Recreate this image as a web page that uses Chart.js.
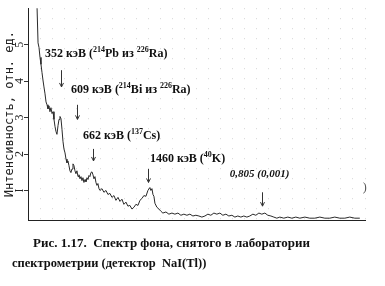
<!DOCTYPE html>
<html><head><meta charset="utf-8">
<script src="https://cdn.jsdelivr.net/npm/chart.js@4.4.1/dist/chart.umd.min.js"></script>
<style>
html,body{margin:0;padding:0;background:#fff;}
#wrap{position:relative;width:385px;height:286px;overflow:hidden;background:#fff;}
canvas{position:absolute;left:0;top:0;}
#cap{position:absolute;left:0;top:233px;width:385px;font-family:"Liberation Serif",serif;font-weight:bold;color:#111;line-height:20px;white-space:nowrap;}
</style></head><body>
<div id="wrap"><canvas id="c" width="385" height="286"></canvas>
<div id="cap"><div style="padding-left:33px;font-size:13px">Рис. 1.17.&nbsp; Спектр фона, снятого в лаборатории</div><div style="padding-left:12px;font-size:12.5px">спектрометрии (детектор&nbsp; NaI(Tl))</div></div></div>
<script>
// Energy (keV) of spectrum points
const energy = [200,212,223,234,245,256,267,278,290,301,312,323,334,345,356,368,379,390,401,412,423,435,446,457,468,479,490,501,513,524,535,546,557,568,579,591,602,613,624,635,646,658,669,680,691,702,713,724,736,747,758,769,780,791,802,814,825,836,847,858,869,880,892,903,925,947,970,992,1014,1037,1059,1081,1104,1126,1148,1170,1193,1215,1237,1260,1282,1304,1327,1349,1371,1393,1416,1438,1460,1471,1483,1494,1505,1516,1538,1561,1583,1605,1639,1672,1706,1739,1773,1806,1839,1873,1906,1940,1973,2007,2040,2074,2107,2140,2174,2207,2241,2274,2308,2341,2375,2408,2441,2475,2508,2542,2575,2609,2642,2676,2709,2743,2776,2810,2843,2876,2910,2954,2999,3044,3088,3133,3189,3244,3300,3356,3412,3467,3523,3579,3635,3690,3746,3802];
// Intensity, rel. units
const intensity = [6.1,5.05,4.92,4.65,4.46,4.24,4.03,3.84,3.65,3.43,3.35,3.24,3.32,3.16,3.27,3.11,3.16,2.95,2.76,2.62,2.54,2.78,2.95,3.03,2.97,2.68,2.35,2.14,2.03,1.86,1.76,1.81,1.68,1.54,1.49,1.59,1.73,1.68,1.54,1.46,1.54,1.38,1.43,1.32,1.38,1.27,1.35,1.22,1.30,1.24,1.35,1.30,1.41,1.38,1.49,1.51,1.43,1.32,1.38,1.22,1.14,1.19,1.05,1.00,1.05,0.95,1.00,0.89,0.92,0.81,0.86,0.73,0.81,0.70,0.76,0.62,0.68,0.57,0.59,0.49,0.54,0.62,0.59,0.73,0.78,0.86,0.84,1.00,1.08,1.00,1.05,0.89,0.84,0.65,0.54,0.49,0.43,0.38,0.41,0.35,0.38,0.35,0.38,0.32,0.35,0.32,0.35,0.30,0.32,0.30,0.27,0.30,0.35,0.32,0.38,0.35,0.38,0.32,0.35,0.30,0.32,0.27,0.30,0.27,0.30,0.27,0.30,0.35,0.32,0.38,0.35,0.38,0.32,0.30,0.27,0.24,0.27,0.24,0.27,0.24,0.27,0.24,0.27,0.24,0.24,0.27,0.24,0.24,0.27,0.24,0.24,0.27,0.24,0.24];

// Y axis ticks
const yTickValues = [1,2,3,4,5];
const yTickLabels = ["I","2","3","4","5"];
const yTitle = "Интенсивность, отн. ед.";

// Peak annotations (label text, ^digits = superscript)
const labelTexts = ["352 кэВ (^214Pb из ^226Ra)","609 кэВ (^214Bi из ^226Ra)","662 кэВ (^137Cs)","1460 кэВ (^40K)","0,805 (0,001)"];
const labelEnergy = [290,579,713,1460,2352];
const labelLevel = [4.65,3.68,2.4,1.78,1.37];
const labelItalic = [false,false,false,false,true];
// Arrows
const arrowEnergy = [468,646,825,1438,2709];
const arrowTop = [4.30,3.35,2.14,1.59,0.95];
const arrowBottom = [3.84,2.95,1.81,1.22,0.57];
// stray mark at right edge
const markText = ")";
const markEnergy = 3835;
const markLevel = 0.98;

const points = energy.map((e,i)=>({x:e,y:intensity[i]}));

function drawRich(ctx, text, x, y, italic){
  const parts = text.split(/(\^\d+)/).filter(s=>s.length);
  let cx = x;
  const style = italic ? 'italic bold ' : 'bold ';
  parts.forEach(p=>{
    if (p[0]==='^'){
      const s = p.slice(1);
      ctx.font = 'bold 8px "Liberation Serif", serif';
      ctx.fillText(s, cx, y-5);
      cx += ctx.measureText(s).width;
    } else {
      ctx.font = style + (italic?'11px':'12px') + ' "Liberation Serif", serif';
      ctx.fillText(p, cx, y);
      cx += ctx.measureText(p).width;
    }
  });
}

const annotPlugin = {
  id:'annot',
  afterDatasetsDraw(chart){
    const {ctx, scales:{x, y}} = chart;
    ctx.save();
    ctx.fillStyle = '#111';
    ctx.textBaseline = 'alphabetic';
    ctx.textAlign = 'left';
    labelTexts.forEach((t,i)=>{
      drawRich(ctx, t, x.getPixelForValue(labelEnergy[i]), y.getPixelForValue(labelLevel[i]), labelItalic[i]);
    });
    ctx.strokeStyle = '#333';
    ctx.lineWidth = 1;
    arrowEnergy.forEach((e,i)=>{
      const px = Math.round(x.getPixelForValue(e))+0.5;
      const y1 = y.getPixelForValue(arrowTop[i]);
      const y2 = y.getPixelForValue(arrowBottom[i]);
      ctx.beginPath(); ctx.moveTo(px,y1); ctx.lineTo(px,y2); ctx.stroke();
      ctx.beginPath(); ctx.moveTo(px-2,y2-4); ctx.lineTo(px,y2); ctx.lineTo(px+2,y2-4); ctx.stroke();
    });
    ctx.font = '12px "Liberation Serif", serif';
    ctx.fillStyle = '#555';
    ctx.fillText(markText, x.getPixelForValue(markEnergy), y.getPixelForValue(markLevel));
    ctx.restore();
  }
};

new Chart(document.getElementById('c'), {
  type:'line',
  data:{datasets:[{data:points, borderColor:'#2a2a2a', borderWidth:1, pointRadius:0, tension:0, fill:false}]},
  options:{
    responsive:false, animation:false, devicePixelRatio:1,
    layout:{padding:{left:0, top:5, right:20, bottom:66}},
    plugins:{legend:{display:false}, tooltip:{enabled:false}},
    scales:{
      x:{type:'linear', min:100, max:3860,
         ticks:{display:false, stepSize:134},
         grid:{display:true, color:'#d6d6d6', drawTicks:false},
         border:{display:true, color:'#222', width:1, dash:[1,9]},
         afterFit(s){ s.height = 0; }
      },
      y:{min:0.19, max:6.0,
         afterBuildTicks(s){ s.ticks = yTickValues.map(v=>({value:v})); },
         ticks:{color:'#222', font:{family:'"Liberation Serif", serif', size:12}, minRotation:90, maxRotation:90, padding:1, crossAlign:'center',
                callback:(v)=>yTickLabels[yTickValues.indexOf(v)]},
         grid:{drawOnChartArea:false, drawTicks:true, tickLength:4, color:'#333'},
         border:{display:true, color:'#222', width:1},
         title:{display:true, text:yTitle, color:'#222', font:{family:'"DejaVu Sans Mono", monospace', size:12}, padding:{top:3,bottom:0}},
         afterFit(s){ s.width = 28; }
      }
    }
  },
  plugins:[annotPlugin]
});
</script>
</body></html>
